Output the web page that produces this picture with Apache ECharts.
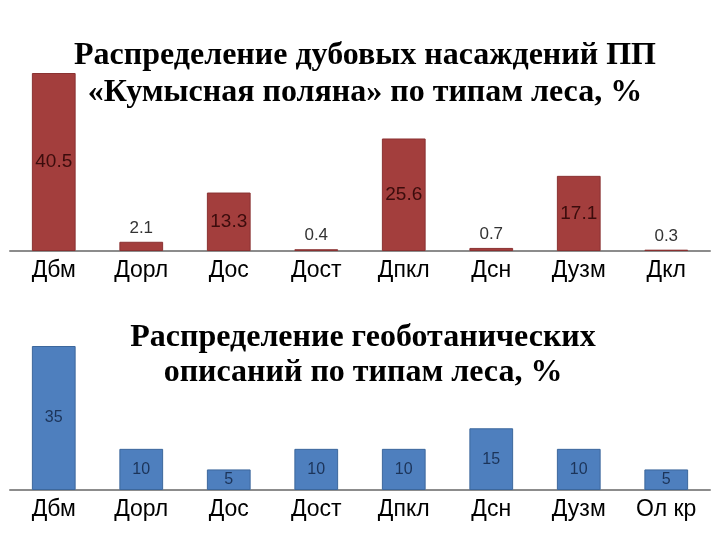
<!DOCTYPE html>
<html>
<head>
<meta charset="utf-8">
<script src="https://cdn.jsdelivr.net/npm/echarts@6/dist/echarts.min.js"></script>
<style>html,body{margin:0;padding:0;background:#fff;}#c{width:720px;height:540px;}</style>
</head>
<body>
<div id="c"></div>
<script>
var topCategories = ['Дбм', 'Дорл', 'Дос', 'Дост', 'Дпкл', 'Дсн', 'Дузм', 'Дкл'];
var topValues = [40.5, 2.1, 13.3, 0.4, 25.6, 0.7, 17.1, 0.3];
var bottomCategories = ['Дбм', 'Дорл', 'Дос', 'Дост', 'Дпкл', 'Дсн', 'Дузм', 'Ол кр'];
var bottomValues = [35, 10, 5, 10, 10, 15, 10, 5];
var topTitle = 'Распределение дубовых насаждений ПП\n«Кумысная поляна» по типам леса, %';
var bottomTitle = 'Распределение геоботанических\nописаний по типам леса, %';

var chart = echarts.init(document.getElementById('c'), null, {renderer: 'canvas'});
var sans = '"Liberation Sans", Arial, sans-serif';
var serif = '"Liberation Serif", "Times New Roman", serif';

var topData = topValues.map(function (v) {
  return v < 5 ? {value: v, label: {position: 'top', distance: 5, color: '#333', fontSize: 17}} : {value: v};
});

var catAxis = function (gi, cats) {
  return {
    type: 'category', gridIndex: gi, data: cats,
    axisLine: {lineStyle: {color: '#8c8c8c', width: 2}},
    axisTick: {show: false},
    axisLabel: {color: '#000', fontSize: 23, fontFamily: sans, margin: 8}
  };
};
var valAxis = function (gi, max) {
  return {type: 'value', gridIndex: gi, min: 0, max: max, show: false, splitLine: {show: false}};
};

chart.setOption({
  animation: false,
  backgroundColor: '#fff',
  title: [
    {text: topTitle, left: 360, top: 32, textAlign: 'center', z: 10,
     textStyle: {fontFamily: serif, fontWeight: 'bold', fontSize: 32, lineHeight: 37, color: '#000'}},
    {text: bottomTitle, left: 358, top: 315, textAlign: 'center', z: 10,
     textStyle: {fontFamily: serif, fontWeight: 'bold', fontSize: 32, lineHeight: 35, color: '#000'}}
  ],
  grid: [
    {left: 10, right: 10, top: 73, height: 178},
    {left: 10, right: 10, top: 346, height: 144}
  ],
  xAxis: [catAxis(0, topCategories), catAxis(1, bottomCategories)],
  yAxis: [valAxis(0, 40.5), valAxis(1, 35)],
  series: [
    {type: 'bar', xAxisIndex: 0, yAxisIndex: 0, data: topData, barWidth: '50%',
     itemStyle: {color: '#A33E3D', borderColor: '#8a3232', borderWidth: 1},
     label: {show: true, position: 'inside', color: '#3b0c0c', fontSize: 19, fontFamily: sans}},
    {type: 'bar', xAxisIndex: 1, yAxisIndex: 1, data: bottomValues, barWidth: '50%',
     itemStyle: {color: '#4E7FBE', borderColor: '#3c679c', borderWidth: 1},
     label: {show: true, position: 'inside', color: '#1c3459', fontSize: 16, fontFamily: sans}}
  ]
});
</script>
</body>
</html>
